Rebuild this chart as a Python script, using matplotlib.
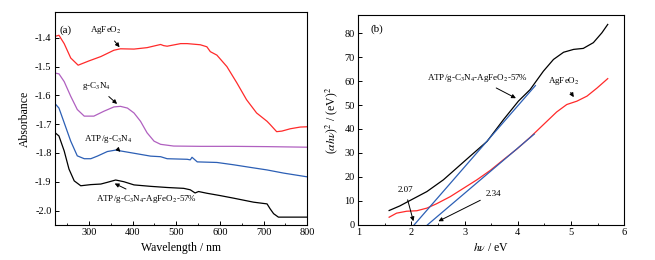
import matplotlib
matplotlib.use("Agg")
import matplotlib.pyplot as plt
from matplotlib.ticker import MultipleLocator

plt.rcParams.update({
    "font.family": ["Liberation Serif", "DejaVu Serif"],
    "mathtext.fontset": "stix",
    "font.size": 7.5,
    "xtick.direction": "in",
    "ytick.direction": "in",
    "axes.linewidth": 0.8,
})

COL_RED = "#ff2a2a"
COL_PUR = "#b060c0"
COL_BLUE = "#2c5fb5"

# ---- panel (a): UV-vis absorbance ----
wl_red = [224, 231, 243, 258, 275, 300, 327, 357, 372, 403, 433, 464, 471, 479, 510,
          525, 555, 570, 578, 593, 616, 639, 661, 684, 708, 715, 730, 742, 761, 784, 800]
ab_red = [-1.394, -1.391, -1.42, -1.47, -1.495, -1.480, -1.465, -1.443, -1.438, -1.439,
          -1.434, -1.423, -1.427, -1.429, -1.420, -1.420, -1.424, -1.431, -1.448, -1.460,
          -1.500, -1.557, -1.615, -1.661, -1.690, -1.701, -1.726, -1.724, -1.716, -1.710, -1.709]

wl_pur = [224, 231, 243, 258, 273, 289, 311, 334, 357, 372, 388, 403, 418, 433, 449,
          464, 494, 555, 631, 708, 800]
ab_pur = [-1.523, -1.525, -1.552, -1.603, -1.649, -1.672, -1.672, -1.655, -1.640, -1.638,
          -1.644, -1.661, -1.690, -1.730, -1.759, -1.770, -1.776, -1.777, -1.777, -1.778, -1.780]

wl_blue = [224, 231, 243, 258, 273, 289, 304, 319, 342, 361, 380, 403, 441, 464, 479,
           525, 532, 536, 548, 593, 631, 669, 708, 746, 800]
ab_blue = [-1.632, -1.644, -1.695, -1.759, -1.810, -1.820, -1.820, -1.811, -1.795, -1.790,
           -1.795, -1.801, -1.811, -1.813, -1.820, -1.822, -1.824, -1.815, -1.831, -1.833,
           -1.841, -1.850, -1.859, -1.870, -1.883]

wl_blk = [224, 231, 243, 254, 266, 281, 304, 327, 342, 361, 380, 403, 441, 479, 517,
          532, 543, 551, 570, 600, 631, 677, 708, 715, 723, 734, 761, 800]
ab_blk = [-1.732, -1.741, -1.793, -1.856, -1.897, -1.914, -1.910, -1.908, -1.902, -1.894,
          -1.900, -1.911, -1.916, -1.920, -1.923, -1.928, -1.939, -1.934, -1.940, -1.948,
          -1.957, -1.971, -1.977, -1.994, -2.011, -2.023, -2.023, -2.023]

# ---- panel (b): Tauc plot ----
hv_blk = [1.58, 1.78, 2.0, 2.29, 2.6, 2.85, 3.1, 3.42, 3.73, 4.01, 4.23, 4.48, 4.67,
          4.86, 5.05, 5.23, 5.42, 5.58, 5.69]
tauc_blk = [6.0, 7.9, 10.5, 13.9, 18.8, 23.7, 28.6, 34.8, 43.9, 51.6, 56.4, 64.1, 69.0,
            72.0, 73.2, 73.6, 76.0, 80.1, 83.6]

hv_red = [1.58, 1.72, 1.91, 2.1, 2.29, 2.47, 2.73, 2.98, 3.23, 3.48, 3.73, 3.98, 4.23,
          4.48, 4.73, 4.92, 5.11, 5.3, 5.49, 5.69]
tauc_red = [3.2, 4.9, 5.7, 5.9, 7.0, 8.8, 11.8, 15.3, 18.8, 22.7, 27.2, 31.6, 36.5,
            41.8, 47.1, 50.2, 51.6, 53.7, 57.1, 61.0]

fit1_x = [2.05, 4.33]
fit1_y = [0.0, 58.1]
fit2_x = [2.30, 4.31]
fit2_y = [0.0, 37.9]

gap_labels = ["2.07", "2.34"]

fig = plt.figure(figsize=(6.55, 2.6), dpi=100)
ax1 = fig.add_axes([0.084, 0.135, 0.385, 0.819])
ax2 = fig.add_axes([0.547, 0.135, 0.406, 0.807])

lw = 0.9
ax1.plot(wl_red, ab_red, color=COL_RED, lw=lw)
ax1.plot(wl_pur, ab_pur, color=COL_PUR, lw=lw)
ax1.plot(wl_blue, ab_blue, color=COL_BLUE, lw=lw)
ax1.plot(wl_blk, ab_blk, color="black", lw=lw)

ax1.set_xlim(222, 800)
ax1.set_ylim(-2.05, -1.31)
ax1.xaxis.set_major_locator(MultipleLocator(100))
ax1.xaxis.set_minor_locator(MultipleLocator(50))
ax1.set_yticks([-2.0, -1.9, -1.8, -1.7, -1.6, -1.5, -1.4])
ax1.set_yticklabels(["-2.0", "-1.9", "-1.8", "-1.7", "-1.6", "-1.5", "-1.4"])
ax1.tick_params(which="major", length=3, width=0.7, pad=2.5)
ax1.tick_params(which="minor", length=1.8, width=0.6)
ax1.set_xlabel("Wavelength / nm", fontsize=8.5, labelpad=3)
ax1.set_ylabel("Absorbance", fontsize=8.5, labelpad=3)

arrow = dict(arrowstyle="-|>", color="black", lw=0.7, mutation_scale=6)
fs = 6.5
ax1.text(246, -1.373, "(a)", fontsize=8, ha="center", va="center")
ax1.annotate("AgFeO$_2$", xy=(374, -1.44), xytext=(338, -1.373), fontsize=fs,
             ha="center", va="center", arrowprops=arrow)
ax1.annotate("g-C$_3$N$_4$", xy=(369, -1.636), xytext=(318, -1.567), fontsize=fs,
             ha="center", va="center", arrowprops=arrow)
ax1.annotate("ATP/g-C$_3$N$_4$", xy=(372, -1.796), xytext=(343, -1.753), fontsize=fs,
             ha="center", va="center", arrowprops=arrow)
ax1.annotate("ATP/g-C$_3$N$_4$-AgFeO$_2$-57%", xy=(353, -1.902), xytext=(432, -1.960),
             fontsize=fs, ha="center", va="center", arrowprops=arrow)

ax2.plot(hv_blk, tauc_blk, color="black", lw=lw)
ax2.plot(hv_red, tauc_red, color=COL_RED, lw=lw)
ax2.plot(fit1_x, fit1_y, color=COL_BLUE, lw=lw)
ax2.plot(fit2_x, fit2_y, color=COL_BLUE, lw=lw)

ax2.set_xlim(1, 6)
ax2.set_ylim(0, 87.5)
ax2.xaxis.set_major_locator(MultipleLocator(1))
ax2.xaxis.set_minor_locator(MultipleLocator(0.5))
ax2.yaxis.set_major_locator(MultipleLocator(10))
ax2.tick_params(which="major", length=3, width=0.7, pad=2.5)
ax2.tick_params(which="minor", length=1.8, width=0.6)
ax2.set_xlabel("$h\\nu$ / eV", fontsize=8.5, labelpad=3)
ax2.set_ylabel("($\\alpha h\\nu$)$^2$ / (eV)$^2$", fontsize=8.5, labelpad=3)

ax2.text(1.35, 81.8, "(b)", fontsize=8, ha="center", va="center")
ax2.annotate("ATP/g-C$_3$N$_4$-AgFeO$_2$-57%", xy=(4.01, 52.3), xytext=(3.23, 61.3),
             fontsize=fs, ha="center", va="center", arrowprops=arrow)
ax2.annotate("AgFeO$_2$", xy=(5.08, 52.3), xytext=(4.86, 59.9), fontsize=fs,
             ha="center", va="center", arrowprops=arrow)
ax2.annotate(gap_labels[0], xy=(2.05, 0.4), xytext=(1.88, 14.4), fontsize=fs,
             ha="center", va="center", arrowprops=arrow)
ax2.annotate(gap_labels[1], xy=(2.46, 1.0), xytext=(3.54, 13.0), fontsize=fs,
             ha="center", va="center", arrowprops=arrow)

fig.savefig("out.png", dpi=100)
